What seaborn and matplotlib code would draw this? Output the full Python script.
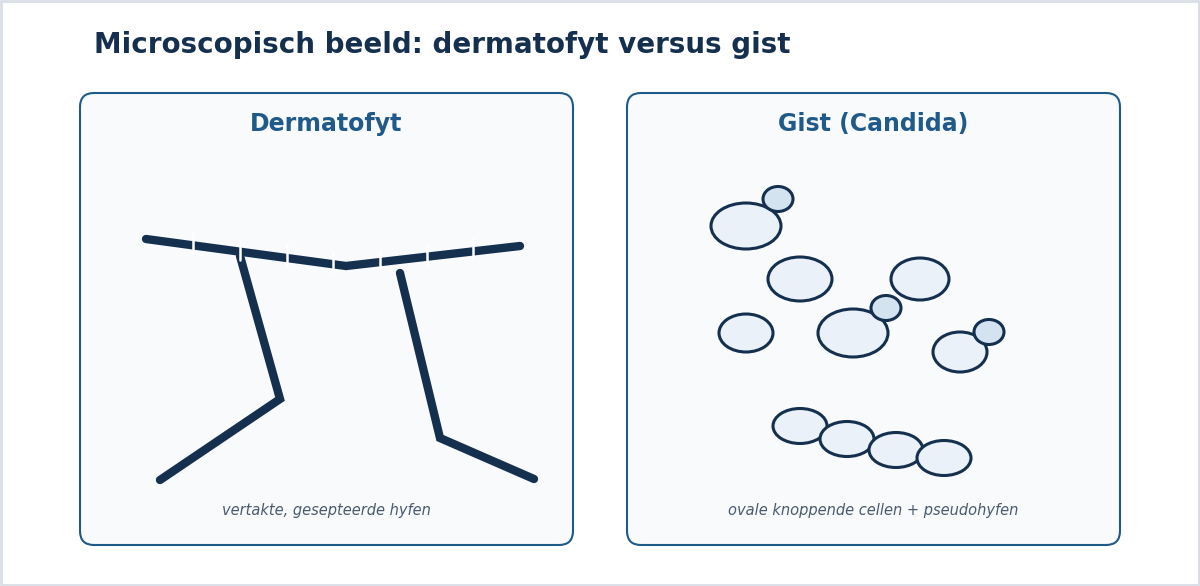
import matplotlib
matplotlib.use("Agg")
import matplotlib.pyplot as plt
from matplotlib.patches import FancyBboxPatch, Ellipse, Rectangle
import seaborn as sns

sns.set_theme(style="white")
plt.rcParams['font.family'] = ['DejaVu Sans']

title = "Microscopisch beeld: dermatofyt versus gist"
panel_titles = ["Dermatofyt", "Gist (Candida)"]
captions = ["vertakte, gesepteerde hyfen", "ovale knoppende cellen + pseudohyfen"]
panel_x = [80, 627]

main_hypha_x = [146, 346, 520]
main_hypha_y = [239, 266, 246]
branch1_x = [240, 280, 160]
branch1_y = [256, 399, 480]
branch2_x = [400, 440, 534]
branch2_y = [273, 438, 479]
septa_x = [193, 240, 287, 333, 380, 427, 473]

cells_x = [746, 800, 920, 746, 853, 960]
cells_y = [226, 279, 279, 333, 333, 352]
cells_w = [70, 64, 58, 54, 70, 54]
cells_h = [46, 44, 42, 38, 48, 40]
buds_x = [778, 886, 989]
buds_y = [199, 308, 332]
buds_w = [30, 30, 30]
buds_h = [25, 25, 25]
chain_x = [800, 847, 896, 944]
chain_y = [426, 439, 450, 458]

navy = "#15304f"
blue = "#1f5a8a"

fig = plt.figure(figsize=(12, 5.86), dpi=100)
ax = fig.add_axes([0, 0, 1, 1])
ax.set_xlim(0, 1200); ax.set_ylim(586, 0); ax.axis("off")

ax.add_patch(Rectangle((1, 1), 1198, 584, fill=False, ec="#d9dee6", lw=2))
ax.text(94, 45, title, fontsize=20, fontweight="bold", color=navy, va="center")

for px, t, c in zip(panel_x, panel_titles, captions):
    ax.add_patch(FancyBboxPatch((px, 93), 493, 452, boxstyle="round,pad=0,rounding_size=14",
                                fc="#f8fafc", ec=blue, lw=1.5))
    ax.text(px + 246.5, 124, t, fontsize=17, fontweight="bold", color=blue, ha="center", va="center")
    ax.text(px + 246.5, 510, c, fontsize=10.5, style="italic", color="#4a5a6e", ha="center", va="center")

for xs, ys in [(main_hypha_x, main_hypha_y), (branch1_x, branch1_y), (branch2_x, branch2_y)]:
    ax.plot(xs, ys, color=navy, lw=6, solid_capstyle="round", solid_joinstyle="miter")

def y_on_main(x):
    if x <= main_hypha_x[1]:
        x0, x1, y0, y1 = main_hypha_x[0], main_hypha_x[1], main_hypha_y[0], main_hypha_y[1]
    else:
        x0, x1, y0, y1 = main_hypha_x[1], main_hypha_x[2], main_hypha_y[1], main_hypha_y[2]
    return y0 + (y1 - y0) * (x - x0) / (x1 - x0)

for sx in septa_x:
    yy = y_on_main(sx)
    ax.plot([sx, sx], [yy - 12, yy + 8], color="white", lw=1.8)

for x, y, w, h in zip(cells_x, cells_y, cells_w, cells_h):
    ax.add_patch(Ellipse((x, y), w, h, fc="#eaf1f8", ec=navy, lw=2.2, zorder=3))
for x, y, w, h in zip(buds_x, buds_y, buds_w, buds_h):
    ax.add_patch(Ellipse((x, y), w, h, fc="#d4e3f0", ec=navy, lw=2.2, zorder=4))
for x, y in zip(chain_x, chain_y):
    ax.add_patch(Ellipse((x, y), 54, 35, fc="#eaf1f8", ec=navy, lw=2.2, zorder=3))

fig.savefig("out.png", dpi=100)
